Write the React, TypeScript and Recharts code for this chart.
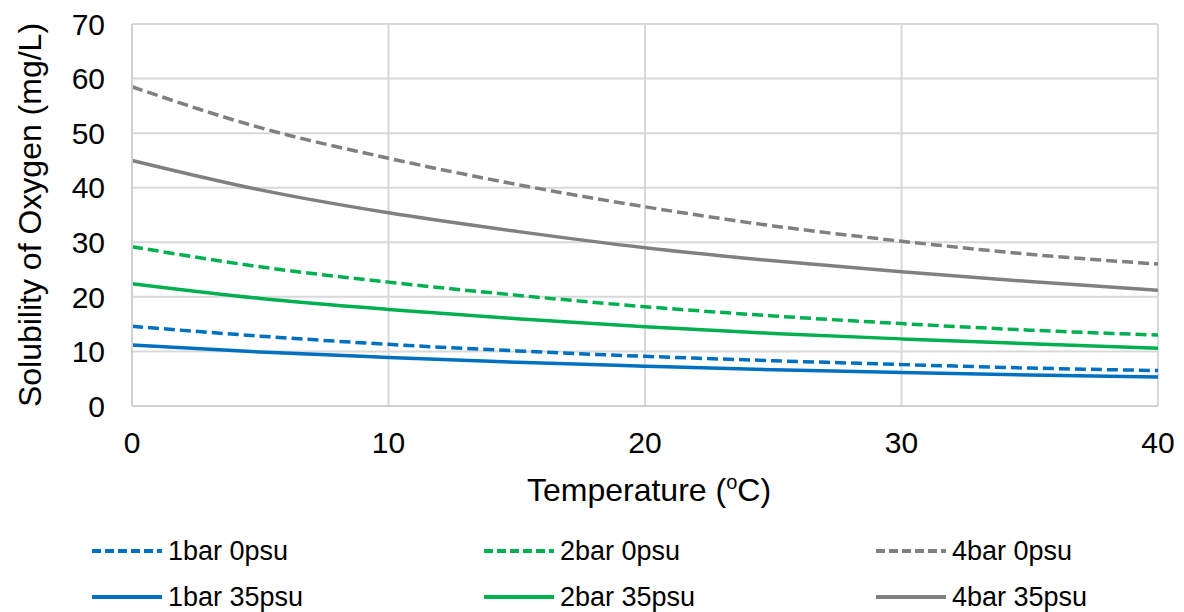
import React from 'react';
import { LineChart, Line, XAxis, YAxis, CartesianGrid, Legend } from 'recharts';

const temperatures = [0, 5, 10, 15, 20, 25, 30, 35, 40];
const bar1psu0 = [14.6, 12.8, 11.3, 10.1, 9.1, 8.3, 7.6, 6.95, 6.5];
const bar2psu0 = [29.2, 25.5, 22.7, 20.3, 18.2, 16.5, 15.1, 13.9, 13.0];
const bar4psu0 = [58.5, 51.0, 45.4, 40.6, 36.5, 33.0, 30.2, 27.8, 26.0];
const bar1psu35 = [11.2, 9.9, 8.9, 8.0, 7.3, 6.65, 6.15, 5.7, 5.3];
const bar2psu35 = [22.4, 19.7, 17.7, 16.0, 14.5, 13.3, 12.3, 11.4, 10.6];
const bar4psu35 = [45.0, 39.6, 35.4, 32.0, 29.0, 26.6, 24.6, 22.8, 21.2];
const seriesNames = ['1bar 0psu', '2bar 0psu', '4bar 0psu', '1bar 35psu', '2bar 35psu', '4bar 35psu'];
const xTicks = [0, 10, 20, 30, 40];
const yTicks = [0, 10, 20, 30, 40, 50, 60, 70];

const data = temperatures.map((t, i) => ({
  t,
  d1: bar1psu0[i],
  d2: bar2psu0[i],
  d4: bar4psu0[i],
  s1: bar1psu35[i],
  s2: bar2psu35[i],
  s4: bar4psu35[i],
}));

const BLUE = '#0070C0';
const GREEN = '#00B050';
const GRAY = '#808080';
const DASH = '11 5';
const FONT = '"Liberation Sans", Arial, sans-serif';

const LegendContent = (props: any) => {
  const payload = props.payload || [];
  return (
    <div style={{ position: 'relative', width: 1184, height: 92 }}>
      {payload.map((p: any) => {
        const i = seriesNames.indexOf(p.value);
        const col = i % 3;
        const row = Math.floor(i / 3);
        const dashed = p.payload && p.payload.strokeDasharray;
        return (
          <div
            key={p.value}
            style={{
              position: 'absolute',
              left: 90 + col * 392,
              top: 31 + row * 46 - 18,
              height: 36,
              display: 'flex',
              alignItems: 'center',
              fontFamily: FONT,
              fontSize: 27,
              color: '#000',
              whiteSpace: 'nowrap',
            }}
          >
            <svg width={74} height={10} style={{ marginRight: 4 }}>
              <line
                x1={2}
                y1={5}
                x2={72}
                y2={5}
                stroke={p.color}
                strokeWidth={4}
                strokeDasharray={dashed ? '9 4' : undefined}
              />
            </svg>
            <span>{p.value}</span>
          </div>
        );
      })}
    </div>
  );
};

const XLabel = (props: any) => {
  const vb = props.viewBox || {};
  const cx = vb.x + vb.width / 2 + 4;
  return (
    <text x={cx} y={vb.y + 95} textAnchor="middle" fontFamily={FONT} fontSize={32} fill="#000">
      Temperature (
      <tspan fontSize={20} dy={-12}>o</tspan>
      <tspan dy={12}>C)</tspan>
    </text>
  );
};

const YLabel = (props: any) => {
  const vb = props.viewBox || {};
  const cy = vb.y + vb.height / 2;
  const x = 41;
  return (
    <text
      x={x}
      y={cy}
      transform={`rotate(-90 ${x} ${cy})`}
      textAnchor="middle"
      fontFamily={FONT}
      fontSize={32}
      fill="#000"
    >
      Solubility of Oxygen  (mg/L)
    </text>
  );
};

export default function App() {
  return (
    <div style={{ position: 'absolute', left: 0, top: 0, width: 1184, height: 612, background: '#fff' }}>
      <LineChart width={1184} height={612} data={data} margin={{ top: 24, right: 26, left: 0, bottom: 0 }}>
        <CartesianGrid stroke="#d9d9d9" strokeWidth={2} vertical horizontal />
        <XAxis
          dataKey="t"
          type="number"
          domain={[0, 40]}
          ticks={xTicks}
          height={114}
          tickLine={false}
          tickSize={0}
          tickMargin={26}
          axisLine={{ stroke: '#d0d0d0', strokeWidth: 2 }}
          tick={{ fill: '#000', fontSize: 30, fontFamily: FONT }}
          label={<XLabel />}
        />
        <YAxis
          type="number"
          domain={[0, 70]}
          ticks={yTicks}
          width={132}
          tickLine={false}
          tickSize={0}
          tickMargin={27}
          axisLine={{ stroke: '#d0d0d0', strokeWidth: 2 }}
          tick={{ fill: '#000', fontSize: 30, fontFamily: FONT }}
          label={<YLabel />}
        />
        <Legend
          verticalAlign="bottom"
          align="left"
          height={92}
          wrapperStyle={{ left: 0, width: 1184, height: 92 }}
          content={<LegendContent />}
        />
        <Line dataKey="d1" name={seriesNames[0]} type="monotone" stroke={BLUE} strokeWidth={3.5} strokeDasharray={DASH} dot={false} isAnimationActive={false} />
        <Line dataKey="d2" name={seriesNames[1]} type="monotone" stroke={GREEN} strokeWidth={3.5} strokeDasharray={DASH} dot={false} isAnimationActive={false} />
        <Line dataKey="d4" name={seriesNames[2]} type="monotone" stroke={GRAY} strokeWidth={3.5} strokeDasharray={DASH} dot={false} isAnimationActive={false} />
        <Line dataKey="s1" name={seriesNames[3]} type="monotone" stroke={BLUE} strokeWidth={3.5} dot={false} isAnimationActive={false} />
        <Line dataKey="s2" name={seriesNames[4]} type="monotone" stroke={GREEN} strokeWidth={3.5} dot={false} isAnimationActive={false} />
        <Line dataKey="s4" name={seriesNames[5]} type="monotone" stroke={GRAY} strokeWidth={3.5} dot={false} isAnimationActive={false} />
      </LineChart>
    </div>
  );
}
